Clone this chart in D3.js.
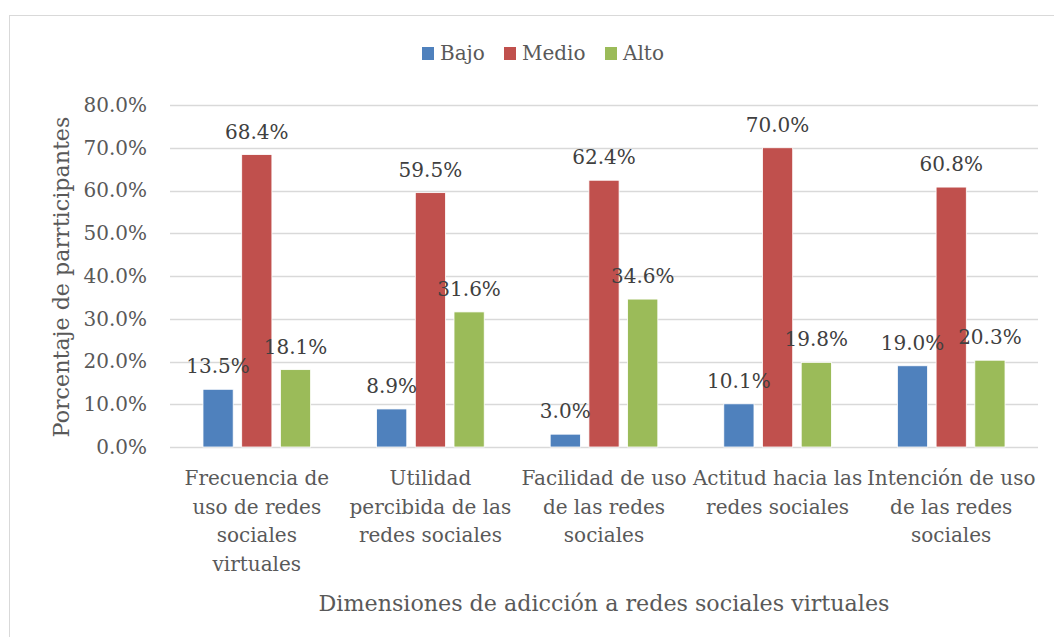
<!DOCTYPE html>
<html>
<head>
<meta charset="utf-8">
<script src="https://cdn.jsdelivr.net/npm/d3@7"></script>
<style>
  html, body { margin: 0; padding: 0; background: #fff; }
  svg text { font-family: "DejaVu Serif", serif; }
</style>
</head>
<body>
<svg id="chart" width="1054" height="637"></svg>
<script>
const categories = [
  ["Frecuencia de", "uso de redes", "sociales", "virtuales"],
  ["Utilidad", "percibida de las", "redes sociales"],
  ["Facilidad de uso", "de las redes", "sociales"],
  ["Actitud hacia las", "redes sociales"],
  ["Intención de uso", "de las redes", "sociales"]
];
const seriesNames = ["Bajo", "Medio", "Alto"];
const bajo  = [13.5, 8.9, 3.0, 10.1, 19.0];
const medio = [68.4, 59.5, 62.4, 70.0, 60.8];
const alto  = [18.1, 31.6, 34.6, 19.8, 20.3];
const yTicks = [0, 10, 20, 30, 40, 50, 60, 70, 80];
const colors = ["#4f81bd", "#c0504d", "#9bbb59"];
const yTitle = "Porcentaje de parrticipantes";
const xTitle = "Dimensiones de adicción a redes sociales virtuales";

const seriesValues = [bajo, medio, alto];
const svg = d3.select("#chart");

// chart frame
svg.append("rect").attr("x", 9.5).attr("y", 15.5).attr("width", 1100).attr("height", 700)
  .attr("fill", "none").attr("stroke", "#d9d9d9").attr("stroke-width", 1);

const pLeft = 170, pRight = 1038, pTop = 105, pBottom = 447;
const catIdx = categories.map((c, i) => i);
const x0 = d3.scaleBand().domain(catIdx).range([pLeft, pRight]);
const bw = x0.bandwidth();
const x1 = d3.scaleBand().domain(seriesNames).range([bw * 0.19, bw * 0.81]).paddingInner(0.22);
const y = d3.scaleLinear().domain([0, 80]).range([pBottom, pTop]);

// gridlines
svg.append("g").selectAll("line").data(yTicks).join("line")
  .attr("x1", pLeft).attr("x2", pRight)
  .attr("y1", d => Math.round(y(d)) + 0.5).attr("y2", d => Math.round(y(d)) + 0.5)
  .attr("stroke", "#d9d9d9").attr("stroke-width", 1.3);

// y tick labels
const yAxis = d3.axisLeft(y).tickValues(yTicks).tickFormat(d => d.toFixed(1) + "%").tickSize(0).tickPadding(0);
const gy = svg.append("g").attr("transform", `translate(147,0)`).call(yAxis);
gy.select(".domain").remove();
gy.selectAll("text").attr("font-size", 20).attr("fill", "#595959").attr("font-family", "DejaVu Serif");

// bars
const groups = svg.append("g").selectAll("g").data(catIdx).join("g")
  .attr("transform", i => `translate(${x0(i)},0)`);
groups.selectAll("rect").data(i => seriesNames.map((s, k) => ({ s, k, v: seriesValues[k][i] }))).join("rect")
  .attr("x", d => x1(d.s)).attr("width", x1.bandwidth())
  .attr("y", d => y(d.v)).attr("height", d => y(0) - y(d.v))
  .attr("fill", d => colors[d.k]).attr("stroke", "#fff").attr("stroke-width", 0.8);

groups.selectAll("text.val").data(i => seriesNames.map((s, k) => ({ s, k, v: seriesValues[k][i] }))).join("text")
  .attr("class", "val")
  .attr("x", d => x1(d.s) + x1.bandwidth() / 2).attr("y", d => y(d.v) - 16)
  .attr("text-anchor", "middle").attr("font-size", 20).attr("fill", "#404040")
  .text(d => d.v.toFixed(1) + "%");

// category labels
const catG = svg.append("g").selectAll("text").data(catIdx).join("text")
  .attr("text-anchor", "middle").attr("font-size", 20).attr("fill", "#595959")
  .attr("transform", i => `translate(${x0(i) + bw / 2},485)`);
catG.selectAll("tspan").data(i => categories[i]).join("tspan")
  .attr("x", 0).attr("y", (d, j) => j * 28.5).text(d => d);

// axis titles
svg.append("text").attr("transform", `translate(69,${(pTop + pBottom) / 2 + 1}) rotate(-90)`)
  .attr("text-anchor", "middle").attr("font-size", 22.2).attr("fill", "#595959").text(yTitle);
svg.append("text").attr("x", (pLeft + pRight) / 2).attr("y", 611)
  .attr("text-anchor", "middle").attr("font-size", 22.2).attr("fill", "#595959").text(xTitle);

// legend
const legendX = [422, 504, 605];
const lg = svg.append("g").selectAll("g").data(seriesNames).join("g")
  .attr("transform", (d, i) => `translate(${legendX[i]},47)`);
lg.append("rect").attr("width", 12).attr("height", 13).attr("fill", (d, i) => colors[i]);
lg.append("text").attr("x", 18).attr("y", 13).attr("font-size", 20).attr("fill", "#595959").text(d => d);
</script>
</body>
</html>
